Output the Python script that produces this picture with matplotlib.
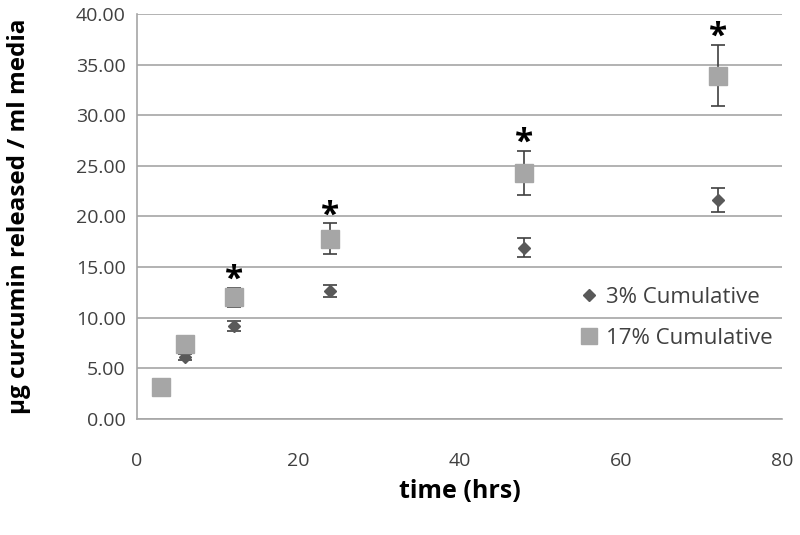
import matplotlib.pyplot as plt
from matplotlib.lines import Line2D
from matplotlib.ticker import FormatStrFormatter

plt.rcParams['font.family'] = ['Open Sans', 'DejaVu Sans']

# time points (hrs)
t_3 = [6, 12, 24, 48, 72]
y_3 = [6.1, 9.2, 12.6, 16.9, 21.6]
err_3 = [0.3, 0.5, 0.6, 0.95, 1.2]

t_17 = [3, 6, 12, 24, 48, 72]
y_17 = [3.2, 7.4, 12.0, 17.8, 24.3, 33.9]
err_17 = [0, 0, 0.9, 1.5, 2.2, 3.0]

# significance markers
star_t = [12, 24, 48, 72]

fig = plt.figure(figsize=(8, 5.35), dpi=100)
ax = fig.add_axes([0.171, 0.217, 0.807, 0.757])

ax.errorbar(t_3, y_3, yerr=err_3, fmt='D', color='#595959', ms=6,
            ecolor='#404040', elinewidth=1.2, capsize=5, capthick=1.2, zorder=3)
ax.errorbar(t_17, y_17, yerr=err_17, fmt='s', color='#a6a6a6', ms=13,
            ecolor='#404040', elinewidth=1.2, capsize=5, capthick=1.2, zorder=3)

for t in star_t:
    i = t_17.index(t)
    ax.text(t, y_17[i] + err_17[i] + 0.75, '*', ha='center', va='center',
            fontsize=24, fontweight='bold', color='black')

ax.set_xlim(0, 80)
ax.set_ylim(0, 40)
ax.set_xticks([0, 20, 40, 60, 80])
ax.set_yticks(range(0, 41, 5))
ax.yaxis.set_major_formatter(FormatStrFormatter('%.2f'))
ax.grid(axis='y', color='#a6a6a6', lw=1.2)
ax.set_axisbelow(True)

for s in ['top', 'right']:
    ax.spines[s].set_visible(False)
for s in ['left', 'bottom']:
    ax.spines[s].set_color('#a6a6a6')
    ax.spines[s].set_linewidth(1.2)

ax.tick_params(length=0, labelsize=14, colors='#404040', pad=8)
ax.tick_params(axis='x', pad=24)

ax.set_xlabel('time (hrs)', fontsize=18, fontweight='bold', labelpad=6)
ax.set_ylabel('µg curcumin released / ml media', fontsize=17.5, fontweight='bold', labelpad=32)

handles = [
    Line2D([], [], ls='none', marker='D', color='#595959', ms=6),
    Line2D([], [], ls='none', marker='s', color='#a6a6a6', ms=12),
]
ax.legend(handles, ['3% Cumulative', '17% Cumulative'], loc='center left',
          bbox_to_anchor=(0.685, 0.25), frameon=False, fontsize=16,
          borderpad=0, borderaxespad=0, handlelength=0.9, handletextpad=0.3,
          labelspacing=0.9, labelcolor='#404040')

fig.savefig('out.png', dpi=100)
